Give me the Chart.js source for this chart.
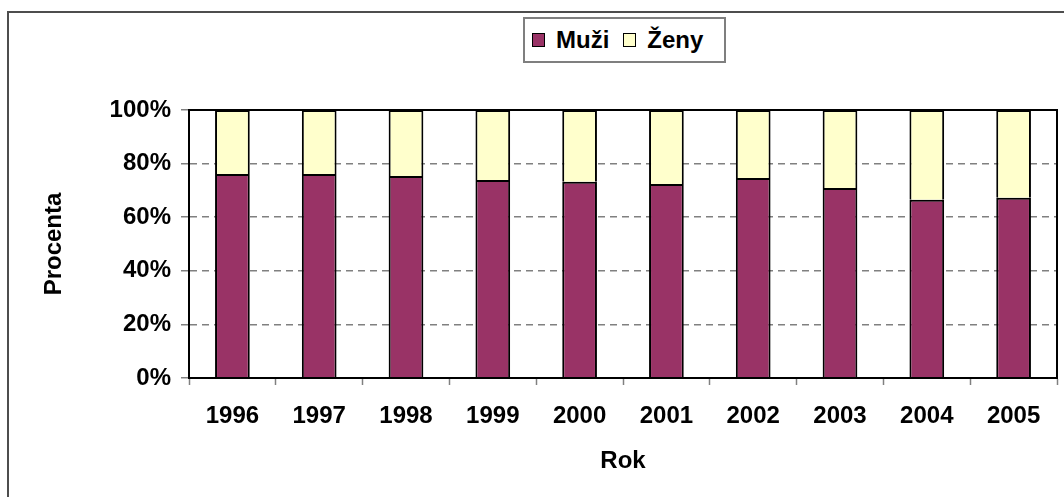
<!DOCTYPE html>
<html>
<head>
<meta charset="utf-8">
<script src="https://cdn.jsdelivr.net/npm/chart.js@4.4.1/dist/chart.umd.min.js"></script>
<style>
    html, body { margin: 0; padding: 0; background: #fff; }
    #wrap { position: relative; width: 1064px; height: 497px; overflow: hidden; }
    #frame { position: absolute; left: 7px; top: 11px; width: 1100px; height: 520px; border: 2px solid #4d4d4d; }
    #chart { position: absolute; left: 0; top: 0; }
    #legend {
        position: absolute; left: 523px; top: 17px; width: 192px; height: 42px;
        border: 2px solid #7f7f7f; background: #fff;
        display: flex; align-items: center; padding-left: 7px; box-sizing: content-box;
        font: bold 24px "Liberation Sans", Arial, sans-serif; color: #000;
    }
    #legend .item { display: inline-flex; align-items: center; margin-right: 14px; }
    #legend .sw { width: 13px; height: 14px; box-sizing: border-box; border: 1.5px solid #000; margin-right: 11px; }
</style>
</head>
<body>
<div id="wrap">
    <div id="frame"></div>
    <canvas id="chart" width="1064" height="497"></canvas>
    <div id="legend"></div>
</div>
<script>
// Podíl mužů a žen podle roku (stacked 100 %)
const years = ["1996", "1997", "1998", "1999", "2000", "2001", "2002", "2003", "2004", "2005"];
const muzi = [76.1, 76.1, 75.4, 73.9, 73.2, 72.4, 74.6, 70.9, 66.5, 67.3];
const zeny = [23.9, 23.9, 24.6, 26.1, 26.8, 27.6, 25.4, 29.1, 33.5, 32.7];
const seriesLabels = ["Muži", "Ženy"];
const seriesColors = ["#993366", "#FFFFCC"];
const yMax = 100;
const yStep = 20;

const FONT = { family: '"Liberation Sans", Arial, sans-serif', size: 24, weight: "bold" };
const GRID_GRAY = "#808080";

// legenda v rámečku (HTML, jako v Excelu)
const legendEl = document.getElementById("legend");
seriesLabels.forEach((lbl, i) => {
    const item = document.createElement("span");
    item.className = "item";
    const sw = document.createElement("span");
    sw.className = "sw";
    sw.style.background = seriesColors[i];
    item.appendChild(sw);
    item.appendChild(document.createTextNode(lbl));
    legendEl.appendChild(item);
});

// černý rámeček kolem plochy grafu
const plotFrame = {
    id: "plotFrame",
    afterDatasetsDraw(chart) {
        const a = chart.chartArea;
        const ctx = chart.ctx;
        ctx.save();
        ctx.strokeStyle = "#000";
        ctx.lineWidth = 2;
        ctx.strokeRect(a.left, a.top, a.right - a.left, a.bottom - a.top);
        ctx.restore();
    },
};

new Chart(document.getElementById("chart"), {
    type: "bar",
    data: {
        labels: years,
        datasets: [muzi, zeny].map((vals, i) => ({
            label: seriesLabels[i],
            data: vals,
            backgroundColor: seriesColors[i],
            borderColor: "#000",
            borderWidth: 2,
            borderSkipped: "start",
            barPercentage: 0.4,
            categoryPercentage: 1,
        })),
    },
    options: {
        responsive: false,
        animation: false,
        devicePixelRatio: 1,
        layout: { padding: { left: 36, top: 110, right: 7, bottom: 21 } },
        plugins: { legend: { display: false }, tooltip: { enabled: false } },
        scales: {
            x: {
                stacked: true,
                grid: { drawOnChartArea: false, tickLength: 7, tickColor: GRID_GRAY, tickWidth: 1.5, offset: true },
                border: { color: "#000", width: 2 },
                ticks: { color: "#000", font: FONT, padding: 17, maxRotation: 0 },
                title: { display: true, text: "Rok", color: "#000", font: FONT, padding: 0 },
                afterFit: (s) => { s.height = 98; },
            },
            y: {
                stacked: true,
                min: 0,
                max: yMax,
                ticks: { stepSize: yStep, color: "#000", font: FONT, padding: 10, callback: (v) => v + "%" },
                grid: { color: GRID_GRAY, lineWidth: 1.5, tickLength: 8, tickColor: GRID_GRAY, tickWidth: 1.5 },
                border: { color: "#000", width: 2, dash: [7, 5] },
                title: { display: true, text: "Procenta", color: "#000", font: FONT, padding: { top: 4, bottom: 4 } },
                afterFit: (s) => { s.width = 153; },
            },
        },
    },
    plugins: [plotFrame],
});
</script>
</body>
</html>
